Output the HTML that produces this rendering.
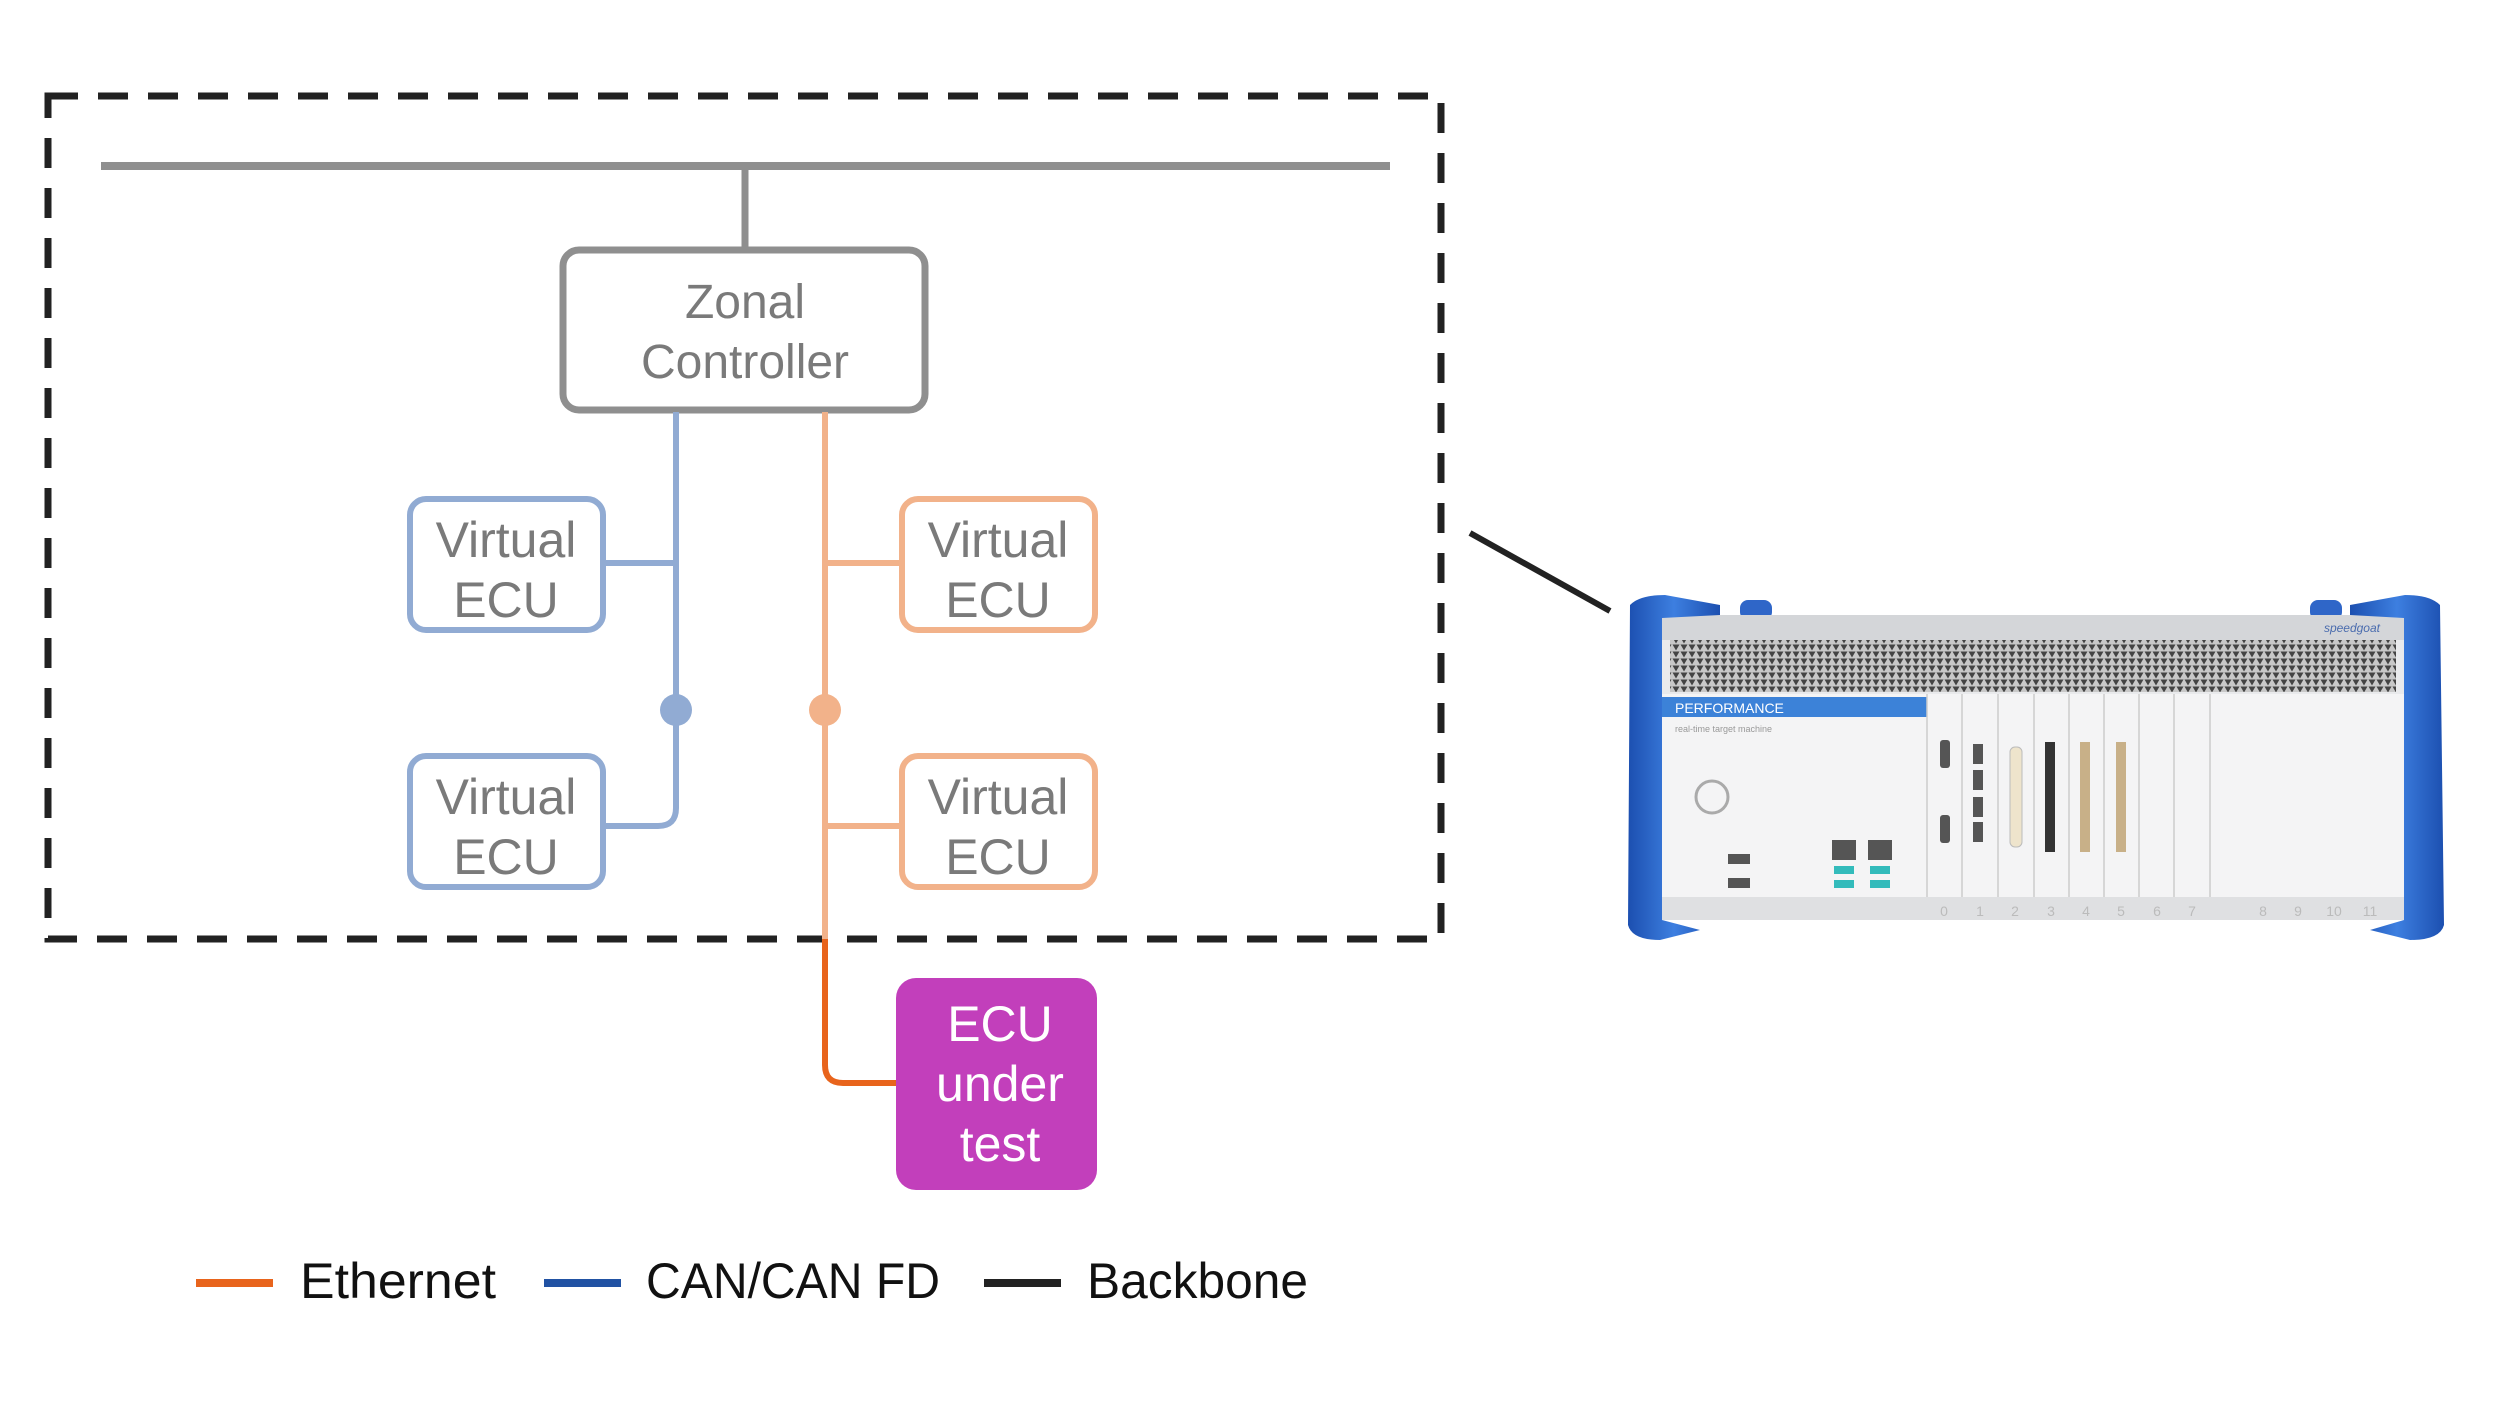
<!DOCTYPE html>
<html><head><meta charset="utf-8"><style>html,body{margin:0;padding:0;background:#fff}svg{display:block}</style></head>
<body>
<svg width="2500" height="1404" viewBox="0 0 2500 1404" xmlns="http://www.w3.org/2000/svg" font-family="Liberation Sans, sans-serif">
<rect width="2500" height="1404" fill="#fff"/>
<rect x="48" y="96" width="1393" height="843" fill="none" stroke="#222" stroke-width="7" stroke-dasharray="30 20"/>
<line x1="101" y1="166" x2="1390" y2="166" stroke="#8f8f8f" stroke-width="8"/>
<line x1="745" y1="166" x2="745" y2="250" stroke="#8f8f8f" stroke-width="7"/>
<rect x="563" y="250" width="362" height="160" rx="16" fill="#fff" stroke="#8f8f8f" stroke-width="7"/>
<text x="745" y="318" font-size="48" fill="#7a7a7a" text-anchor="middle">Zonal</text>
<text x="745" y="378" font-size="48" fill="#7a7a7a" text-anchor="middle">Controller</text>
<path d="M676 412 V808 Q676 826 658 826 H603" fill="none" stroke="#91abd3" stroke-width="6"/>
<line x1="603" y1="563" x2="676" y2="563" stroke="#91abd3" stroke-width="6"/>
<circle cx="676" cy="710" r="16" fill="#91abd3"/>
<line x1="825" y1="412" x2="825" y2="939" stroke="#f2b28a" stroke-width="6"/>
<line x1="825" y1="563" x2="900" y2="563" stroke="#f2b28a" stroke-width="6"/>
<line x1="825" y1="826" x2="900" y2="826" stroke="#f2b28a" stroke-width="6"/>
<circle cx="825" cy="710" r="16" fill="#f2b28a"/>
<path d="M825 939 V1065 Q825 1083 843 1083 H898" fill="none" stroke="#e8641c" stroke-width="6"/>
<g font-size="50" fill="#7a7a7a" text-anchor="middle">
<rect x="410" y="499" width="193" height="131" rx="16" fill="#fff" stroke="#91abd3" stroke-width="6"/>
<text x="506" y="557">Virtual</text><text x="506" y="617">ECU</text>
<rect x="410" y="756" width="193" height="131" rx="16" fill="#fff" stroke="#91abd3" stroke-width="6"/>
<text x="506" y="814">Virtual</text><text x="506" y="874">ECU</text>
<rect x="902" y="499" width="193" height="131" rx="16" fill="#fff" stroke="#f2b28a" stroke-width="6"/>
<text x="998" y="557">Virtual</text><text x="998" y="617">ECU</text>
<rect x="902" y="756" width="193" height="131" rx="16" fill="#fff" stroke="#f2b28a" stroke-width="6"/>
<text x="998" y="814">Virtual</text><text x="998" y="874">ECU</text>
</g>
<rect x="896" y="978" width="201" height="212" rx="20" fill="#c23fbb"/>
<g font-size="50" fill="#fff" text-anchor="middle">
<text x="1000" y="1041">ECU</text><text x="1000" y="1101">under</text><text x="1000" y="1161">test</text>
</g>
<line x1="196" y1="1283" x2="273" y2="1283" stroke="#e8641c" stroke-width="8"/>
<line x1="544" y1="1283" x2="621" y2="1283" stroke="#2152a3" stroke-width="8"/>
<line x1="984" y1="1283" x2="1061" y2="1283" stroke="#222" stroke-width="8"/>
<g font-size="50" fill="#111">
<text x="300" y="1298" textLength="196" lengthAdjust="spacingAndGlyphs">Ethernet</text>
<text x="646" y="1298" textLength="294" lengthAdjust="spacingAndGlyphs">CAN/CAN FD</text>
<text x="1087" y="1298" textLength="221" lengthAdjust="spacingAndGlyphs">Backbone</text>
</g>
<line x1="1470" y1="533" x2="1610" y2="611" stroke="#222" stroke-width="6"/>
<defs>
<pattern id="vent" width="8" height="7" patternUnits="userSpaceOnUse">
<rect width="8" height="7" fill="#c8c8c8"/><path d="M0.5 0.5 L4 6.5 L7.5 0.5 Z" fill="#444"/>
</pattern>
<linearGradient id="blue" x1="0" x2="1"><stop offset="0" stop-color="#1c4fb0"/><stop offset="0.5" stop-color="#3d7fe0"/><stop offset="1" stop-color="#1c4fb0"/></linearGradient>
</defs>
<rect x="1740" y="600" width="32" height="20" rx="8" fill="#2f66c8"/>
<rect x="2310" y="600" width="32" height="20" rx="8" fill="#2f66c8"/>
<rect x="1662" y="615" width="742" height="305" fill="#e9eaec"/>
<rect x="1662" y="615" width="742" height="25" fill="#d4d6d9"/>
<text x="2380" y="632" font-size="12" fill="#4a6cae" text-anchor="end" font-style="italic">speedgoat</text>
<rect x="1670" y="640" width="726" height="52" fill="url(#vent)"/>
<rect x="1662" y="694" width="742" height="203" fill="#f4f4f5"/>
<rect x="1662" y="697" width="265" height="20" fill="#3c82d8"/>
<text x="1675" y="713" font-size="14" fill="#fff">PERFORMANCE</text>
<text x="1675" y="732" font-size="9" fill="#999">real-time target machine</text>
<circle cx="1712" cy="797" r="16" fill="none" stroke="#aaa" stroke-width="3"/>
<g stroke="#ccc" stroke-width="1.5">
<line x1="1927" y1="694" x2="1927" y2="897"/><line x1="1962" y1="694" x2="1962" y2="897"/>
<line x1="1998" y1="694" x2="1998" y2="897"/><line x1="2034" y1="694" x2="2034" y2="897"/>
<line x1="2069" y1="694" x2="2069" y2="897"/><line x1="2104" y1="694" x2="2104" y2="897"/>
<line x1="2139" y1="694" x2="2139" y2="897"/><line x1="2174" y1="694" x2="2174" y2="897"/>
<line x1="2210" y1="694" x2="2210" y2="897"/>
</g>
<g fill="#555">
<rect x="1940" y="740" width="10" height="28" rx="3"/><rect x="1940" y="815" width="10" height="28" rx="3"/>
<rect x="1973" y="744" width="10" height="20"/><rect x="1973" y="770" width="10" height="20"/><rect x="1973" y="797" width="10" height="20"/><rect x="1973" y="822" width="10" height="20"/>
<rect x="2045" y="742" width="10" height="110" fill="#333"/>
<rect x="2080" y="742" width="10" height="110" fill="#c8b088"/>
<rect x="2116" y="742" width="10" height="110" fill="#c8b088"/>
<rect x="1728" y="854" width="22" height="10"/><rect x="1728" y="878" width="22" height="10"/>
<rect x="1832" y="840" width="24" height="20"/><rect x="1868" y="840" width="24" height="20"/>
<rect x="1834" y="866" width="20" height="8" fill="#3bb"/><rect x="1870" y="866" width="20" height="8" fill="#3bb"/>
<rect x="1834" y="880" width="20" height="8" fill="#3bb"/><rect x="1870" y="880" width="20" height="8" fill="#3bb"/>
</g>
<rect x="2010" y="747" width="12" height="100" rx="5" fill="#eee4cc" stroke="#bbb"/>
<rect x="1662" y="897" width="742" height="23" fill="#dfe0e2"/>
<g font-size="14" fill="#bbb" text-anchor="middle">
<text x="1944" y="916">0</text><text x="1980" y="916">1</text><text x="2015" y="916">2</text><text x="2051" y="916">3</text><text x="2086" y="916">4</text><text x="2121" y="916">5</text><text x="2157" y="916">6</text><text x="2192" y="916">7</text><text x="2263" y="916">8</text><text x="2298" y="916">9</text><text x="2334" y="916">10</text><text x="2370" y="916">11</text>
</g>
<path d="M1630 605 Q1640 595 1665 595 L1720 605 L1720 615 L1662 618 L1662 920 L1700 930 L1660 940 Q1632 940 1628 925 Z" fill="url(#blue)"/>
<path d="M2440 605 Q2430 595 2405 595 L2350 605 L2350 615 L2404 618 L2404 920 L2370 930 L2410 940 Q2440 940 2444 925 Z" fill="url(#blue)"/>
</svg>
</body></html>
